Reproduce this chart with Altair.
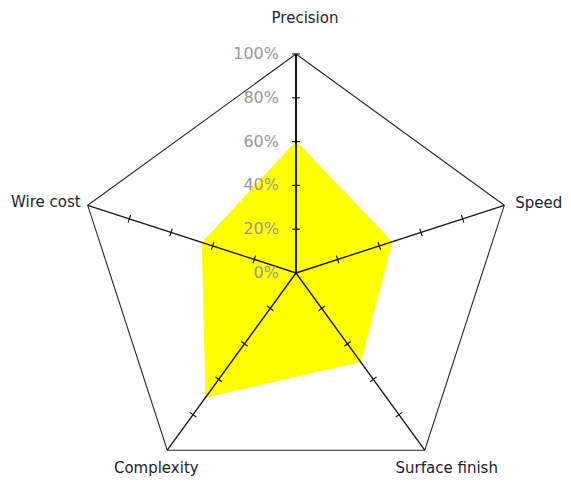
import math
import altair as alt
import pandas as pd

# ---- data ----
categories = ["Precision", "Speed", "Surface finish", "Complexity", "Wire cost"]
values = [60, 46, 50, 70, 45]          # percent
tick_levels = [0, 20, 40, 60, 80, 100]
tick_labels = ["0%", "20%", "40%", "60%", "80%", "100%"]

# ---- layout constants (pixels) ----
W, H = 555, 470
CX, CY = 288, 265      # centre inside plot area
R = 219.0              # radius of 100 % in px
xdom = [-CX / R, (W - CX) / R]
ydom = [-(H - CY) / R, CY / R]

n = len(categories)
angles = [math.radians(90 - 72 * i) for i in range(n)]

X = alt.X("x:Q", scale=alt.Scale(domain=xdom, nice=False, zero=False), axis=None)
Y = alt.Y("y:Q", scale=alt.Scale(domain=ydom, nice=False, zero=False), axis=None)
X2 = alt.X2("x2:Q")
Y2 = alt.Y2("y2:Q")

# filled data polygon
poly = pd.DataFrame(
    [{"i": k, "x": values[k % n] / 100 * math.cos(angles[k % n]),
      "y": values[k % n] / 100 * math.sin(angles[k % n])} for k in range(n + 1)]
)
poly_layer = alt.Chart(poly).mark_line(
    fill="#FFFF00", stroke="#FFFF00", strokeWidth=1, interpolate="linear"
).encode(x=X, y=Y, order="i:Q")

# outer pentagon
outer = pd.DataFrame(
    [{"i": k, "x": math.cos(angles[k % n]), "y": math.sin(angles[k % n])} for k in range(n + 1)]
)
outer_layer = alt.Chart(outer).mark_line(color="#2a2a2a", strokeWidth=1.1).encode(
    x=X, y=Y, order="i:Q"
)

# spokes
spokes = pd.DataFrame(
    [{"cat": categories[i], "x": 0.0, "y": 0.0,
      "x2": math.cos(angles[i]), "y2": math.sin(angles[i]),
      "w": 2.0 if i == 0 else 1.4} for i in range(n)]
)
spoke_layer = alt.Chart(spokes).mark_rule(color="#1a1a1a").encode(
    x=X, y=Y, x2=X2, y2=Y2,
    strokeWidth=alt.StrokeWidth("w:Q", scale=None, legend=None),
)

# tick marks on each spoke
half = 4.0 / R
ticks = []
for i in range(n):
    a = angles[i]
    px, py = -math.sin(a), math.cos(a)
    for lv in tick_levels[1:]:
        if lv == 100 and i != 0:
            continue
        r = lv / 100
        bx, by = r * math.cos(a), r * math.sin(a)
        ticks.append({"x": bx - px * half, "y": by - py * half,
                      "x2": bx + px * half, "y2": by + py * half})
tick_layer = alt.Chart(pd.DataFrame(ticks)).mark_rule(color="#1a1a1a", strokeWidth=1.2).encode(
    x=X, y=Y, x2=X2, y2=Y2
)

# percent labels along the Precision axis
pct = pd.DataFrame({"x": [0.0] * len(tick_levels),
                    "y": [lv / 100 for lv in tick_levels],
                    "t": tick_labels})
pct_layer = alt.Chart(pct).mark_text(
    align="right", baseline="middle", dx=-17, font="DejaVu Sans", fontSize=16, color="#999999"
).encode(x=X, y=Y, text="t:N")

# category labels
label_style = {
    "Precision": dict(align="center", dx=9, dy=-36),
    "Speed": dict(align="left", dx=11, dy=-2),
    "Surface finish": dict(align="center", dx=22, dy=18),
    "Complexity": dict(align="center", dx=-11, dy=18),
    "Wire cost": dict(align="right", dx=-7, dy=-3),
}
label_layers = []
for i, c in enumerate(categories):
    df = pd.DataFrame({"x": [math.cos(angles[i])], "y": [math.sin(angles[i])], "t": [c]})
    label_layers.append(
        alt.Chart(df).mark_text(
            baseline="middle", font="DejaVu Sans", fontSize=15, color="#1e2230", **label_style[c]
        ).encode(x=X, y=Y, text="t:N")
    )

chart = alt.layer(
    poly_layer, outer_layer, spoke_layer, tick_layer, pct_layer, *label_layers
).properties(
    width=W, height=H, padding=0, autosize=alt.AutoSizeParams(type="none")
).configure_view(stroke=None)

chart.save("out.html", embed_options={"renderer": "svg", "actions": False})
